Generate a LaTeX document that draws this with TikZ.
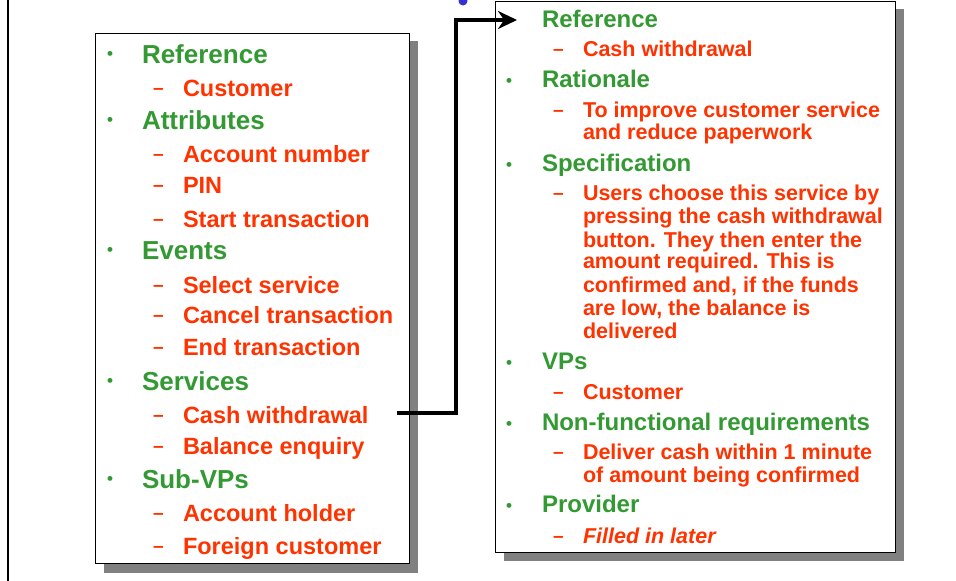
\documentclass[tikz,border=0pt]{standalone}
\usepackage{fontspec}
\setmainfont{Liberation Sans}
\usetikzlibrary{arrows.meta}
\definecolor{tgreen}{RGB}{51,153,51}
\definecolor{tred}{RGB}{255,51,0}
\definecolor{tblue}{RGB}{51,51,204}
\definecolor{tshadow}{RGB}{128,128,128}
\begin{document}
\begin{tikzpicture}[x=1pt,y=-1pt,
  every node/.style={inner sep=0pt,outer sep=0pt,anchor=base west},
  lhead/.style={text=tgreen,font=\fontsize{26}{30}\selectfont\bfseries},
  litem/.style={text=tred,font=\fontsize{23.5}{28}\selectfont\bfseries},
  rhead/.style={text=tgreen,font=\fontsize{24}{28}\selectfont\bfseries},
  ritem/.style={text=tred,font=\fontsize{21.5}{26}\selectfont\bfseries},
  bul/.style={text=tgreen,font=\fontsize{17}{20}\selectfont\bfseries},
  dsh/.style={text=tred,font=\fontsize{19}{22}\selectfont\bfseries},
  shadowfill/.style={fill=tshadow,draw=none},
  panel/.style={fill=white,draw=black,line width=1pt},
  link/.style={draw=black,line width=3.4pt,line join=miter,-{Stealth[length=19pt,width=18pt]}}
]
\useasboundingbox (0,0) rectangle (956,581);
\clip (0,0) rectangle (956,581);
% slide border line and title bullet fragment
\draw[line width=2pt] (8,0) -- (8,581);
\fill[tblue] (463,1) circle (4.5);
% panels
\fill[shadowfill] (104,41) rectangle (418,573);
\draw[panel] (95,33) rectangle (409,563);
\fill[shadowfill] (504,9) rectangle (904,561);
\draw[panel] (495,1) rectangle (895,552);
% ---- left panel ----
\foreach \yy/\nm in {63/lb1,129/lb2,259/lb3,390/lb4,488/lb5}
  \node[bul] (\nm) at (107,\yy-3.3) {•};
\node[lhead] (lh1) at (142,63) {Reference};
\node[lhead] (lh2) at (142,129) {Attributes};
\node[lhead] (lh3) at (142,259) {Events};
\node[lhead] (lh4) at (142,390) {Services};
\node[lhead] (lh5) at (142,488) {Sub-VPs};
\foreach \yy/\nm in {96/ld1,162/ld2,193/ld3,227/ld4,293/ld5,323/ld6,355/ld7,423/ld8,454/ld9,521/ld10,554/ld11}
  \node[dsh] (\nm) at (153,\yy-2) {–};
\node[litem] (li1) at (183,96) {Customer};
\node[litem] (li2) at (183,162) {Account number};
\node[litem] (li3) at (183,193) {PIN};
\node[litem] (li4) at (183,227) {Start transaction};
\node[litem] (li5) at (183,293) {Select service};
\node[litem] (li6) at (183,323) {Cancel transaction};
\node[litem] (li7) at (183,355) {End transaction};
\node[litem] (li8) at (183,423) {Cash withdrawal};
\node[litem] (li9) at (183,454) {Balance enquiry};
\node[litem] (li10) at (183,521) {Account holder};
\node[litem] (li11) at (183,554) {Foreign customer};
% ---- right panel ----
\foreach \yy/\nm in {87/rb2,171/rb3,369/rb4,430/rb5,512/rb6}
  \node[bul] (\nm) at (506,\yy-0.3) {•};
\node[rhead] (rh1) at (542,27) {Reference};
\node[rhead] (rh2) at (542,87) {Rationale};
\node[rhead] (rh3) at (542,171) {Specification};
\node[rhead] (rh4) at (542,369) {VPs};
\node[rhead] (rh5) at (542,430) {Non-functional requirements};
\node[rhead] (rh6) at (542,512) {Provider};
\foreach \yy/\nm in {56/rd1,117/rd2,200/rd3,399/rd4,459/rd5,543/rd6}
  \node[dsh] (\nm) at (553,\yy-1) {–};
\node[ritem] (ri1) at (583,56) {Cash withdrawal};
\node[ritem] (ri2a) at (583,117) {To improve customer service};
\node[ritem] (ri2b) at (583,139) {and reduce paperwork};
\node[ritem] (ri3a) at (583,200) {Users choose this service by};
\node[ritem] (ri3b) at (583,223) {pressing the cash withdrawal};
\node[ritem] (ri3c) at (583,247) {button. They then enter the};
\node[ritem] (ri3d) at (583,268) {amount required. This is};
\node[ritem] (ri3e) at (583,292) {confirmed and, if the funds};
\node[ritem] (ri3f) at (583,315) {are low, the balance is};
\node[ritem] (ri3g) at (583,338) {delivered};
\node[ritem] (ri4) at (583,399) {Customer};
\node[ritem] (ri5a) at (583,459) {Deliver cash within 1 minute};
\node[ritem] (ri5b) at (583,482) {of amount being confirmed};
\node[ritem,font=\fontsize{21.5}{26}\selectfont\bfseries\itshape] (ri6) at (583,543) {Filled in later};
% ---- connector ----
\coordinate (astart) at (397,413);
\coordinate (aelbow) at (456,20);
\coordinate (aend) at (517,20);
\draw[link] (astart) -| (aelbow) -- (aend);
\end{tikzpicture}
\end{document}
